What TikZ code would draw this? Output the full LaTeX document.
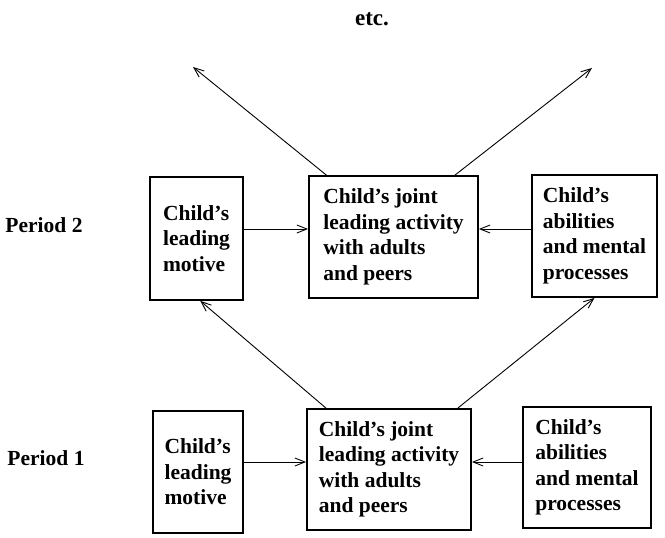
\documentclass[tikz,border=0pt]{standalone}
\usepackage{fontspec}
\setmainfont{Liberation Serif}
\usetikzlibrary{arrows.meta,calc}
\begin{document}
\begin{tikzpicture}[x=1pt,y=-1pt,
  box/.style={draw, line width=1.8pt, inner sep=0pt, align=left,
    font=\fontsize{21.5}{25.5}\selectfont\bfseries},
  lab/.style={font=\fontsize{21.5}{25.5}\selectfont\bfseries, inner sep=0pt, anchor=base},
  con/.style={line width=0.9pt, -{Straight Barb[length=10pt,width=8pt,line width=0.9pt]}}]
\useasboundingbox (0,0) rectangle (665,538);
% Period 2
\node[box, minimum width=93pt, minimum height=123pt] (m2) at (196.5,238.5) {Child's\\leading\\motive};
\node[box, minimum width=169pt, minimum height=122pt] (a2) at (393.5,237) {Child's joint\\leading activity\\with adults\\and peers};
\node[box, minimum width=125pt, minimum height=122pt] (p2) at (594.5,236) {Child's\\abilities\\and mental\\processes};
% Period 1
\node[box, minimum width=90pt, minimum height=122pt] (m1) at (198,472) {Child's\\leading\\motive};
\node[box, minimum width=164pt, minimum height=121pt] (a1) at (389,469.5) {Child's joint\\leading activity\\with adults\\and peers};
\node[box, minimum width=128pt, minimum height=121pt] (p1) at (587,467.5) {Child's\\abilities\\and mental\\processes};
% labels
\node[lab] (per2) at (44,232) {Period 2};
\node[lab] (per1) at (46,465) {Period 1};
\node[lab, font=\fontsize{23}{27}\selectfont\bfseries] (etc) at (372,25) {etc.};
% horizontal arrows
\coordinate (h2) at (0,229);
\coordinate (h1) at (0,462);
\draw[con] (m2.east |- h2) -- (a2.west |- h2);
\draw[con] (p2.west |- h2) -- (a2.east |- h2);
\draw[con] (m1.east |- h1) -- (a1.west |- h1);
\draw[con] (p1.west |- h1) -- (a1.east |- h1);
% diagonal arrows period 1 -> period 2
\draw[con] ($(a1.north west)!0.12!(a1.north east)$) -- ($(m2.south west)!0.54!(m2.south east)$);
\draw[con] ($(a1.north west)!0.915!(a1.north east)$) -- ($(p2.south west)!0.5!(p2.south east)$);
% onward arrows
\coordinate (ul) at (193,67);
\coordinate (ur) at (592,68);
\draw[con] ($(a2.north west)!0.107!(a2.north east)$) -- (ul);
\draw[con] ($(a2.north west)!0.86!(a2.north east)$) -- (ur);
\end{tikzpicture}
\end{document}
